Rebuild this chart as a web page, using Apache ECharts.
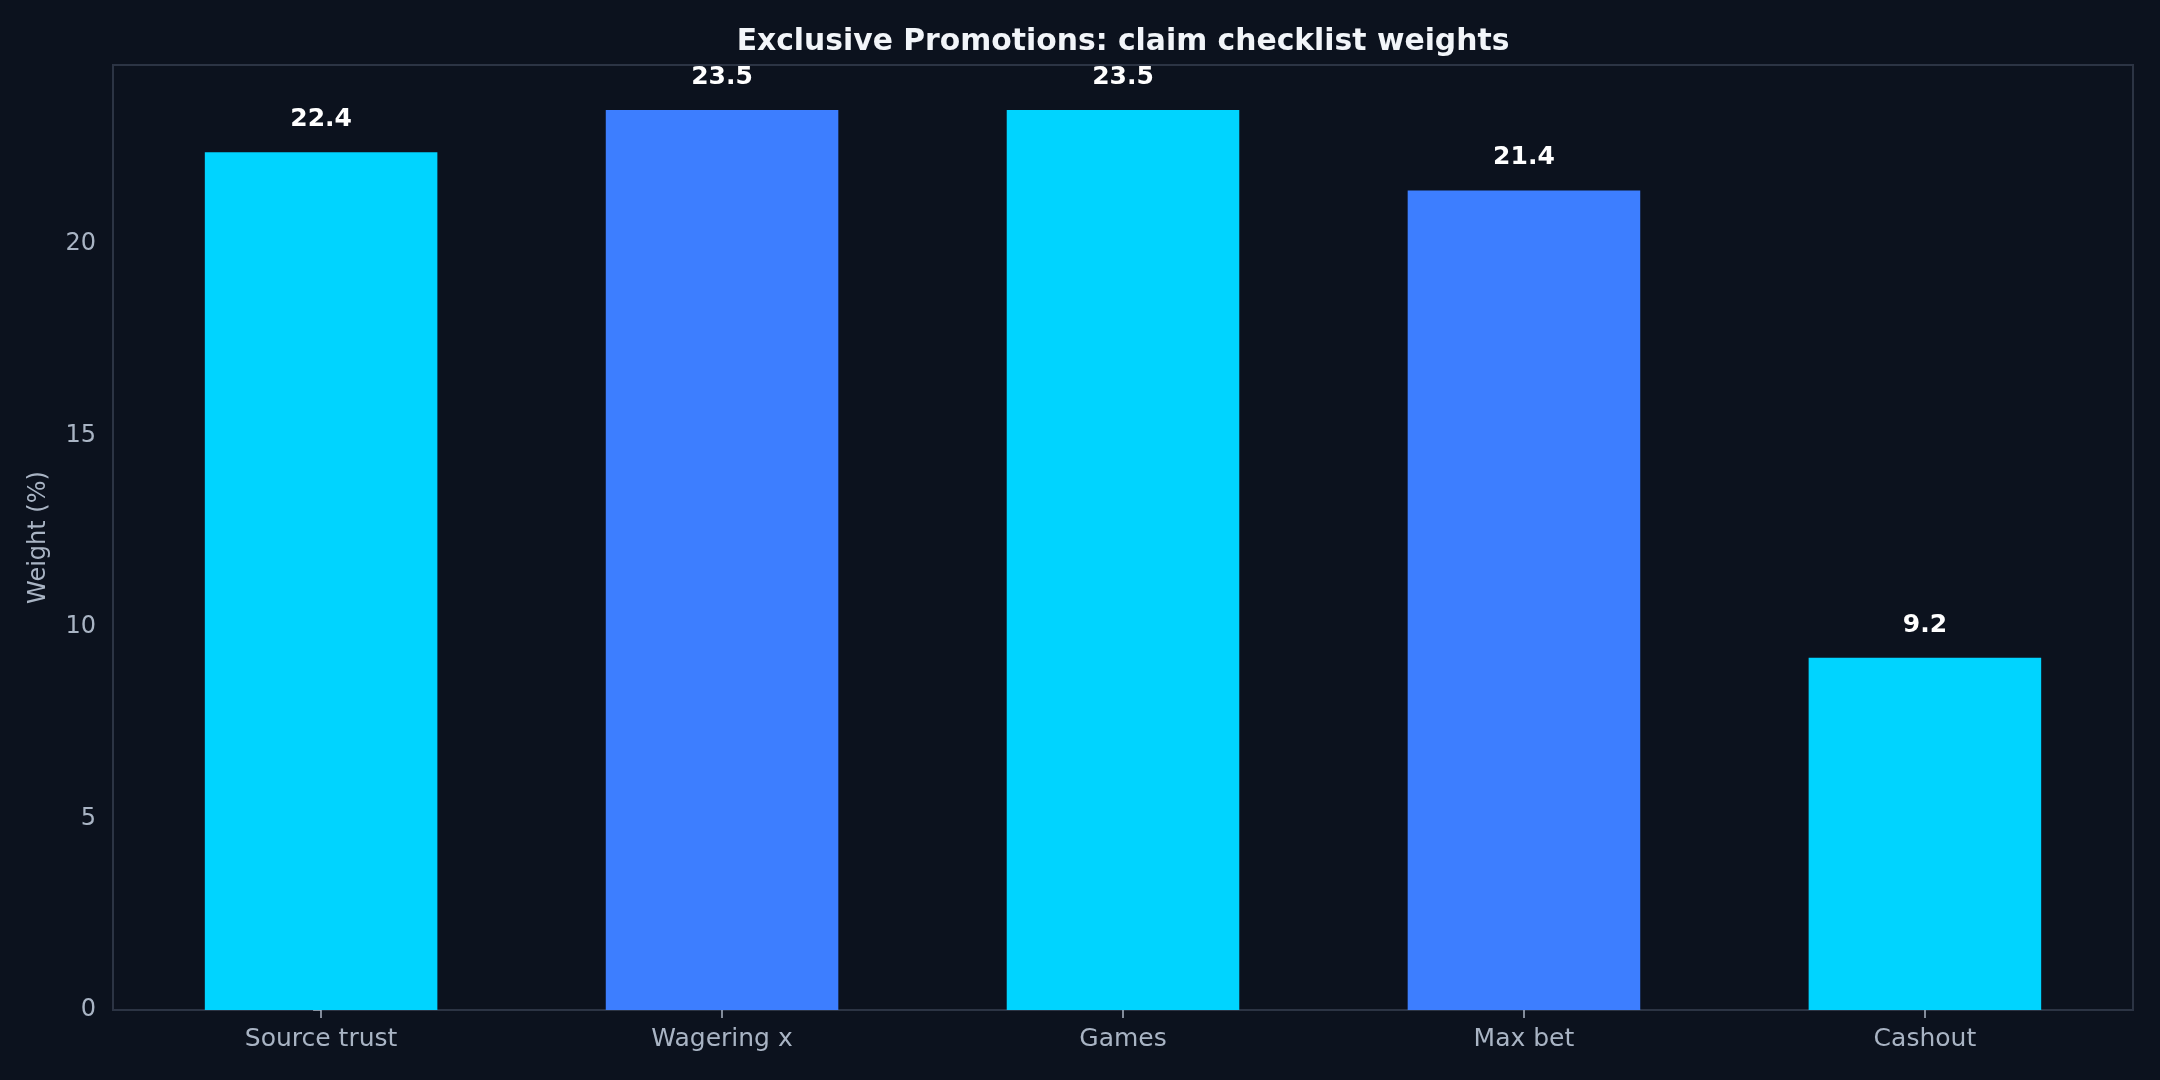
<!DOCTYPE html>
<html>
<head>
<meta charset="utf-8">
<script src="https://cdn.jsdelivr.net/npm/echarts@6/dist/echarts.min.js"></script>
<style>
html,body{margin:0;padding:0;background:#0c121e;}
#chart{width:2160px;height:1080px;}
</style>
</head>
<body>
<div id="chart"></div>
<script>
const titleText = 'Exclusive Promotions: claim checklist weights';
const categories = ['Source trust', 'Wagering x', 'Games', 'Max bet', 'Cashout'];
const weights = [22.4, 23.5, 23.5, 21.4, 9.2];
const yTicks = [0, 5, 10, 15, 20];
const yAxisTitle = 'Weight (%)';
const palette = ['#00d4ff', '#3d7eff'];

const FONT = 'DejaVu Sans';
const W = 2160, H = 1080;
const GRID = {left: 113, right: 27, top: 65, bottom: 70};
const plotW = W - GRID.left - GRID.right;
// matplotlib-like bar layout: width 0.58 per category, 5% margins
const BAR_W_UNITS = 0.58;
const span = (categories.length - 1) + BAR_W_UNITS;
const xMin = -BAR_W_UNITS / 2 - 0.05 * span;
const xMax = (categories.length - 1) + BAR_W_UNITS / 2 + 0.05 * span;
const barPx = BAR_W_UNITS * plotW / (xMax - xMin);
const catIdx = categories.map((c, i) => i);

const chart = echarts.init(document.getElementById('chart'), null, {renderer: 'canvas'});
chart.setOption({
  backgroundColor: '#0c121e',
  animation: false,
  graphic: [{
    type: 'text',
    x: GRID.left + plotW / 2,
    y: 42.5,
    style: {
      text: titleText,
      fill: '#f2f5f9',
      font: 'bold 29.8px "DejaVu Sans"',
      textAlign: 'center',
      textVerticalAlign: 'middle'
    }
  }],
  grid: {
    left: GRID.left, right: GRID.right, top: GRID.top, bottom: GRID.bottom,
    show: true, borderColor: '#2c3444', borderWidth: 2, backgroundColor: 'transparent'
  },
  xAxis: {
    type: 'value',
    min: xMin,
    max: xMax,
    axisLine: {show: false},
    axisTick: {show: true, customValues: catIdx, length: 8, lineStyle: {color: '#a9b4c4', width: 1.5}},
    axisLabel: {
      color: '#a9b4c4', fontFamily: FONT, fontSize: 25, margin: 17,
      customValues: catIdx,
      formatter: v => categories[Math.round(v)]
    },
    splitLine: {show: false}
  },
  yAxis: {
    type: 'value',
    min: 0,
    max: 24.675,
    interval: 5,
    name: yAxisTitle,
    nameLocation: 'middle',
    nameGap: 62,
    nameTextStyle: {color: '#a9b4c4', fontFamily: FONT, fontSize: 24},
    axisLine: {show: false},
    axisTick: {show: true, length: 8, lineStyle: {color: '#a9b4c4', width: 1.5}},
    axisLabel: {
      color: '#a9b4c4', fontFamily: FONT, fontSize: 24, margin: 17,
      showMaxLabel: false,
      formatter: v => (yTicks.indexOf(v) >= 0 ? String(v) : '')
    },
    splitLine: {show: false}
  },
  series: [{
    type: 'bar',
    data: weights.map((v, i) => ({value: [catIdx[i], v], itemStyle: {color: palette[i % palette.length]}})),
    barWidth: barPx,
    label: {
      show: true,
      position: 'top',
      distance: 20,
      color: '#ffffff',
      fontFamily: FONT,
      fontWeight: 'bold',
      fontSize: 25,
      formatter: p => p.value[1].toFixed(1)
    }
  }]
});
</script>
</body>
</html>
